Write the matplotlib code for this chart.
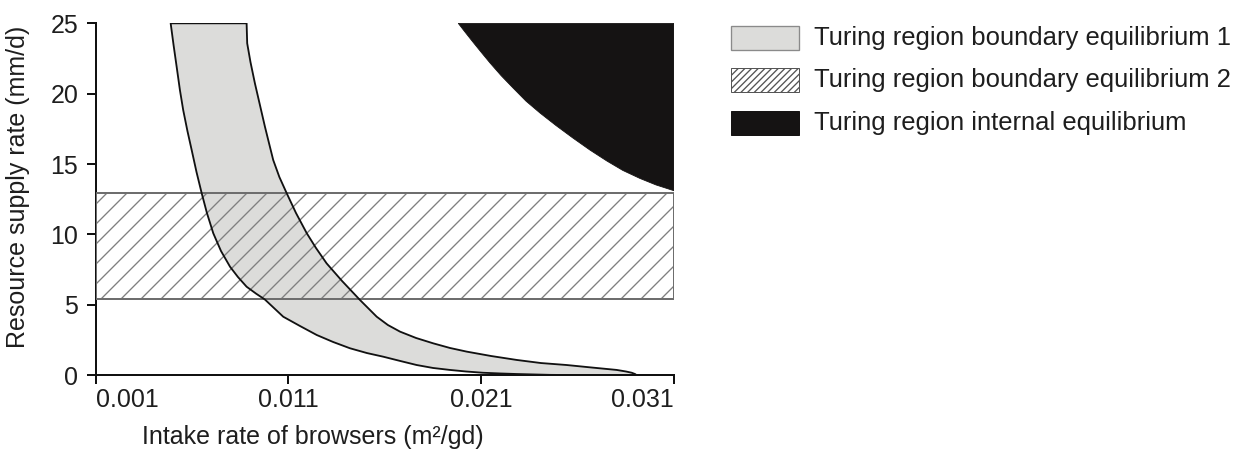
import matplotlib
matplotlib.use('Agg')
import matplotlib.pyplot as plt
from matplotlib.patches import Rectangle

plt.rcParams['font.family'] = ['Liberation Sans', 'DejaVu Sans']
plt.rcParams['hatch.linewidth'] = 0.8

# boundary equilibrium 1 region: left and right edges, top to bottom
eq1_left_x = [0.00489, 0.00504, 0.00520, 0.00537, 0.00554, 0.00576, 0.00598, 0.00623, 0.00650,
              0.00677, 0.00710, 0.00750, 0.00797, 0.00838, 0.00883, 0.00932, 0.00978, 0.01073,
              0.01160, 0.01247, 0.01331, 0.01419, 0.01507, 0.01592, 0.01679, 0.01765, 0.01850,
              0.01938, 0.02021, 0.02109, 0.02197, 0.02284, 0.02457, 0.02628, 0.02768, 0.02907]
eq1_left_y = [25, 23.46, 21.92, 20.26, 18.84, 17.35, 16.00, 14.44, 12.93,
              11.53, 10.09, 8.83, 7.71, 6.98, 6.29, 5.80, 5.38, 4.16,
              3.50, 2.86, 2.37, 1.92, 1.58, 1.32, 1.02, 0.73, 0.52,
              0.38, 0.27, 0.18, 0.13, 0.09, 0.03, 0.01, 0.0, 0.0]
eq1_right_x = [0.00883, 0.00886, 0.00903, 0.00926, 0.00952, 0.00978, 0.00999, 0.01021, 0.01053,
               0.01091, 0.01139, 0.01195, 0.01243, 0.01298, 0.01378, 0.01471, 0.01558, 0.01616,
               0.01679, 0.01762, 0.01851, 0.01938, 0.02025, 0.02151, 0.02284, 0.02410, 0.02543,
               0.02675, 0.02803, 0.02851, 0.02881, 0.02898, 0.02907]
eq1_right_y = [25, 23.58, 22.25, 20.74, 19.20, 17.66, 16.50, 15.29, 14.08,
               12.93, 11.53, 10.09, 9.04, 7.95, 6.70, 5.35, 4.16, 3.57,
               3.10, 2.65, 2.27, 1.94, 1.68, 1.37, 1.09, 0.87, 0.73,
               0.55, 0.38, 0.27, 0.18, 0.09, 0.0]

# boundary equilibrium 2: horizontal band
eq2_x = [0.001, 0.031]
eq2_y = [5.4, 12.95]

# internal equilibrium: lower-left edge of the region in the top right corner
internal_x = [0.01981, 0.02016, 0.02057, 0.02099, 0.02146, 0.02203, 0.02265, 0.02332, 0.02405,
              0.02488, 0.02576, 0.02664, 0.02752, 0.02835, 0.02924, 0.03007, 0.031]
internal_y = [25, 24.38, 23.67, 22.96, 22.18, 21.29, 20.41, 19.48, 18.63,
              17.74, 16.85, 16.00, 15.22, 14.55, 13.98, 13.52, 13.11]

xticks = [0.001, 0.011, 0.021, 0.031]
xtick_labels = ['0.001', '0.011', '0.021', '0.031']
yticks = [0, 5, 10, 15, 20, 25]

legend_labels = ['Turing region boundary equilibrium 1',
                 'Turing region boundary equilibrium 2',
                 'Turing region internal equilibrium']

GREY = '#dcdcda'
TXT = '#1e1e1e'
FS = 15

fig = plt.figure(figsize=(1233 / 120, 457 / 120), dpi=120)
ax = fig.add_axes([0.0776, 0.1788, 0.469, 0.7702])

# grey region
poly_x = eq1_left_x + eq1_right_x[::-1]
poly_y = eq1_left_y + eq1_right_y[::-1]
ax.fill(poly_x, poly_y, facecolor=GREY, edgecolor='none', zorder=1)

# hatched band
ax.fill_between(eq2_x, eq2_y[0], eq2_y[1], facecolor='none', edgecolor='#808080',
                hatch='//', linewidth=0, zorder=2)
ax.add_patch(Rectangle((eq2_x[0], eq2_y[0]), eq2_x[1] - eq2_x[0], eq2_y[1] - eq2_y[0],
                       fill=False, edgecolor='#6e6e6e', linewidth=1.2, zorder=3))

# outline of the grey region on top of the hatching
ax.fill(poly_x, poly_y, facecolor='none', edgecolor='#111111', linewidth=1.1,
        joinstyle='round', zorder=4)

# black region
blk_x = internal_x + [0.031, internal_x[0]]
blk_y = internal_y + [25, 25]
ax.fill(blk_x, blk_y, facecolor='#151313', edgecolor='#151313', linewidth=0.5, zorder=4)

ax.set_xlim(0.001, 0.031)
ax.set_ylim(0, 25)
ax.set_xticks(xticks, labels=xtick_labels)
ax.set_yticks(yticks)
ax.xaxis.get_ticklabels()[0].set_horizontalalignment('left')
ax.xaxis.get_ticklabels()[-1].set_horizontalalignment('right')

for side in ['top', 'right']:
    ax.spines[side].set_visible(False)
for side in ['left', 'bottom']:
    ax.spines[side].set_linewidth(1.2)
    ax.spines[side].set_color('#111111')
ax.tick_params(direction='out', length=5.4, width=1.2, color='#111111',
               labelsize=FS, labelcolor=TXT)
ax.tick_params(axis='x', pad=2.5)
ax.tick_params(axis='y', pad=5)

fig.text(18 / 1233, 1 - 187 / 457, 'Resource supply rate (mm/d)', rotation=90,
         ha='center', va='center', fontsize=FS, color=TXT)
fig.text(313 / 1233, 1 - 437 / 457, 'Intake rate of browsers (m²/gd)',
         ha='center', va='center', fontsize=FS, color=TXT)

# legend drawn by hand
W, H = 1233, 457
rows = [37.5, 80, 123]
styles = [dict(facecolor=GREY, edgecolor='#8a8a8a', linewidth=0.8),
          dict(facecolor='white', edgecolor='#555555', hatch='//////', linewidth=0.6),
          dict(facecolor='#151313', edgecolor='#151313', linewidth=0.6)]
for cy, label, st in zip(rows, legend_labels, styles):
    fig.add_artist(Rectangle((731 / W, 1 - (cy + 12) / H), 68 / W, 24 / H,
                             transform=fig.transFigure, **st))
    fig.text(814 / W, 1 - cy / H, label, ha='left', va='center', fontsize=15.4, color=TXT)

fig.savefig('out.png', dpi=120)
